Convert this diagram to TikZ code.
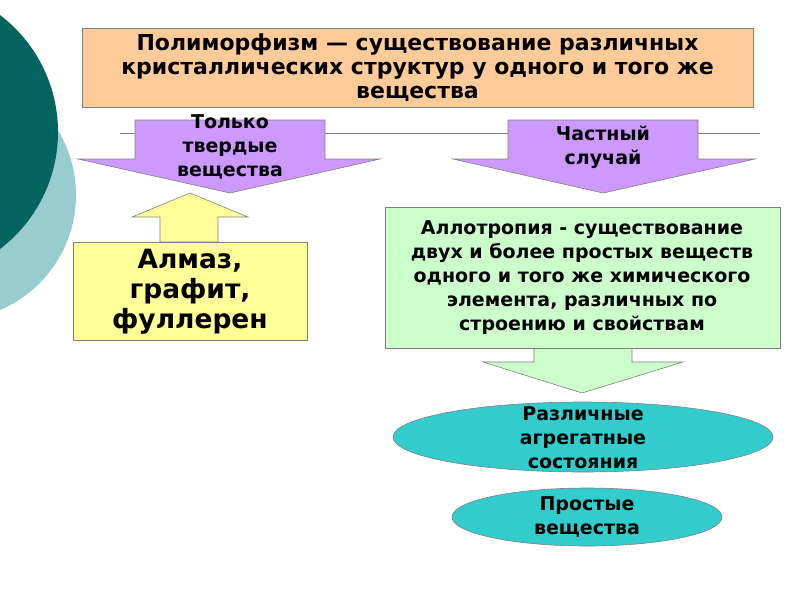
\documentclass[tikz,border=0pt]{standalone}
\usepackage{fontspec}
\setmainfont{DejaVu Sans}
\definecolor{peach}{HTML}{FFCC99}
\definecolor{lilac}{HTML}{CC99FF}
\definecolor{lemon}{HTML}{FFFF99}
\definecolor{mint}{HTML}{CCFFCC}
\definecolor{aqua}{HTML}{33CCCC}
\definecolor{darkteal}{HTML}{046560}
\definecolor{paleteal}{HTML}{99CCCC}
\tikzset{
  outline/.style={draw=gray, line width=0.6pt},
  txt/.style={font=\bfseries\fontsize{19}{24}\selectfont, align=center, inner sep=0pt},
  bigtxt/.style={font=\bfseries\fontsize{26.5}{30}\selectfont, align=center, inner sep=0pt},
}
\begin{document}
\begin{tikzpicture}[x=1pt,y=-1pt]
\useasboundingbox (0,0) rectangle (800,600);
% background circles
\begin{scope}
  \clip (0,0) rectangle (800,600);
  \fill[paleteal] (-49,195) circle[radius=125];
  \fill[darkteal] (-89,132) circle[radius=147];
\end{scope}
% title
\node[outline, fill=peach, minimum width=671, minimum height=79, inner sep=0pt,
      font=\bfseries\fontsize{22}{24}\selectfont, align=center] (title) at (417.5,67.5)
  {Полиморфизм — существование различных\\кристаллических структур у одного и того же\\вещества};
\draw[gray] (120,133) -- (760,133);
% purple arrows
\filldraw[outline, fill=lilac] (135,120) -- (325,120) -- (325,159) -- (380,159) -- (230,193)
  -- (78,159) -- (135,159) -- cycle;
\node[txt] (solid) at (230,147) {Только\\твердые\\вещества};
\filldraw[outline, fill=lilac] (508,120) -- (698,120) -- (698,159) -- (755,159) -- (603,193)
  -- (453,159) -- (508,159) -- cycle;
\node[txt] (special) at (603,147) {Частный\\случай};
% left column
\filldraw[outline, fill=lemon] (160,242) -- (160,217) -- (132,217) -- (190,193) -- (248,217)
  -- (218,217) -- (218,242) -- cycle;
\node[outline, fill=lemon, minimum width=234, minimum height=98, inner sep=0pt] (carbonbox) at (190,291) {};
\node[bigtxt] (carbon) at (190,292) {Алмаз,\\графит,\\фуллерен};
% right column
\filldraw[outline, fill=mint] (534,348) -- (534,362) -- (483,362) -- (582,393) -- (683,362)
  -- (632,362) -- (632,348) -- cycle;
\node[outline, fill=mint, minimum width=395, minimum height=141, inner sep=0pt] (allotbox) at (582.5,277.5) {};
\node[txt] (allot) at (582,278) {Аллотропия - существование\\двух и более простых веществ\\одного и того же химического\\элемента, различных по\\строению и свойствам};
\filldraw[outline, fill=aqua] (583,437) ellipse[x radius=190, y radius=35];
\node[txt] (states) at (583,438) {Различные\\агрегатные\\состояния};
\filldraw[outline, fill=aqua] (587,517) ellipse[x radius=135, y radius=29];
\node[txt] (simple) at (587,517) {Простые\\вещества};
\end{tikzpicture}
\end{document}
